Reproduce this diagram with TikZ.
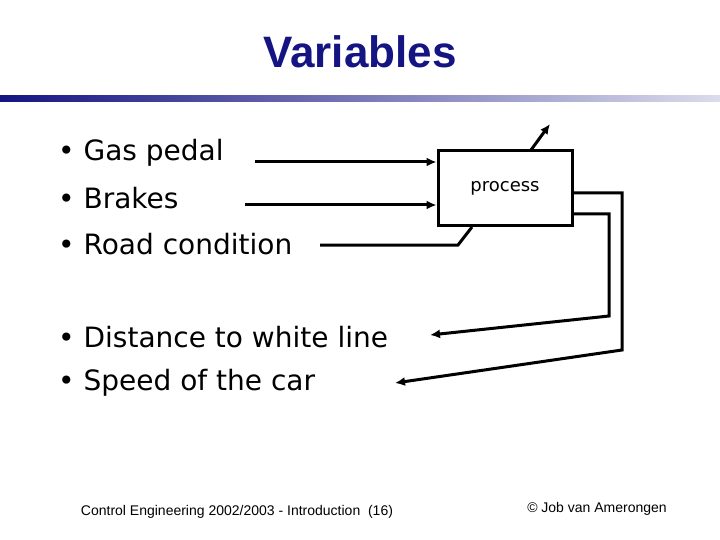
\documentclass[tikz,border=0pt]{standalone}
\usepackage{fontspec}
\setmainfont{Liberation Sans}
\newfontfamily\comicfont{DejaVu Sans}
\usetikzlibrary{arrows.meta,shadings}
\definecolor{titleblue}{RGB}{20,20,130}
\begin{document}
\begin{tikzpicture}
        [x=1pt,y=-1pt, every node/.style={inner sep=0}, wire/.style={line width=3pt, black}, arr/.style={wire,-{Latex[length=10pt,width=9pt]}},
         item/.style={anchor=west, font=\comicfont\fontsize{28}{32}\selectfont}]

        \useasboundingbox (0,0) rectangle (720,540);

        \node[font=\bfseries\fontsize{44}{48}\selectfont, text=titleblue] (title) at (360,52) {Variables};
        \shade[left color=titleblue, right color=titleblue!15] (0,96) rectangle (720,102);

        \node[item] (gas) at (58,153) {\textbullet\ Gas pedal};
        \node[item] (brakes) at (58,198) {\textbullet\ Brakes};
        \node[item] (road) at (58,244) {\textbullet\ Road condition};
        \node[item] (dist) at (58,337) {\textbullet\ Distance to white line};
        \node[item] (speed) at (58,383) {\textbullet\ Speed of the car};

        \node[draw, line width=3pt, minimum width=134pt, minimum height=75pt, font=\comicfont\fontsize{18}{20}\selectfont] (proc) at (505,188.5) {process};

        \coordinate (out) at (550,124);
        \coordinate (dtip) at (430,335);
        \coordinate (stip) at (395,383);
        \draw[arr] (255,162) -- (proc.west |- 0,162);
        \draw[arr] (245,205) -- (proc.west |- 0,205);
        \draw[wire] (320,245) -- (458,245) -- (472,227);
        \draw[arr] (531,150) -- (out);
        \draw[arr] (proc.east |- 0,214) -- (609,214) -- (609,316) -- (dtip);
        \draw[arr] (proc.east |- 0,193) -- (622,193) -- (622,350) -- (stip);

        \node[font=\fontsize{14}{16}\selectfont] (foot) at (237,512) {Control Engineering 2002/2003 - Introduction\ \ (16)};
        \node[font=\fontsize{14}{16}\selectfont] (copy) at (597,509) {\textcopyright\ Job van Amerongen};

      \end{tikzpicture}
\end{document}
